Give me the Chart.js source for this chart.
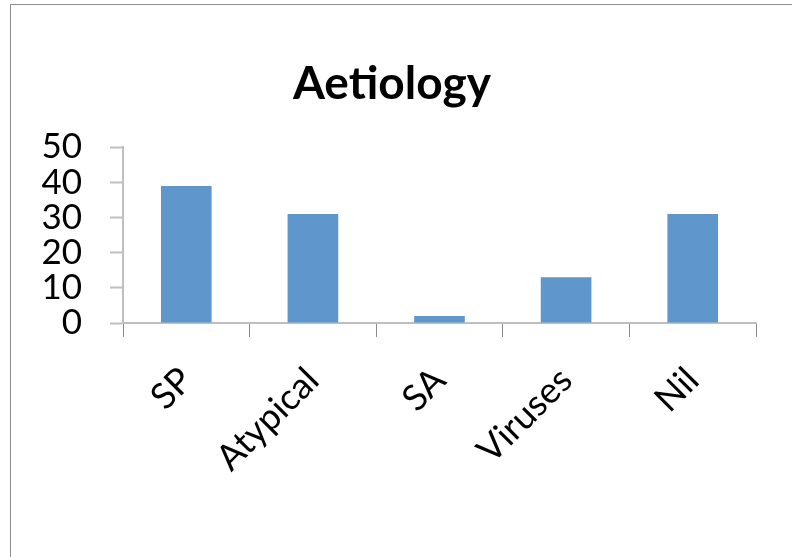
<!DOCTYPE html>
<html>
<head>
<meta charset="utf-8">
<script src="https://cdn.jsdelivr.net/npm/chart.js@4/dist/chart.umd.min.js"></script>
<style>
  html, body { margin: 0; padding: 0; background: #fff; }
  #wrap { position: relative; width: 792px; height: 557px; overflow: hidden; }
  #frame { position: absolute; left: 10px; top: 4px; width: 900px; height: 700px;
           border-top: 1px solid #8c8c8c; border-left: 1px solid #8c8c8c; }
  canvas { position: absolute; left: 0; top: 0; }
</style>
</head>
<body>
<div id="wrap">
  <div id="frame"></div>
  <canvas id="c" width="792" height="557"></canvas>
</div>
<script>
// Aetiology counts per category
const categories = ['SP', 'Atypical', 'SA', 'Viruses', 'Nil'];
const counts = [39, 31, 2, 13, 31];
const yTicks = [0, 10, 20, 30, 40, 50];

const FONT = 'Lato, "Open Sans", sans-serif';

new Chart(document.getElementById('c'), {
  type: 'bar',
  data: {
    labels: categories,
    datasets: [{
      label: 'Aetiology',
      data: counts,
      backgroundColor: '#5f96cb',
      borderWidth: 0,
      barPercentage: 0.4,
      categoryPercentage: 1.0
    }]
  },
  options: {
    responsive: false,
    animation: false,
    layout: { padding: { left: 28, right: 36, top: 0, bottom: 0 } },
    plugins: {
      legend: { display: false },
      tooltip: { enabled: false },
      title: {
        display: true,
        text: 'Aetiology',
        color: '#000',
        font: { family: FONT, size: 46, weight: 'bold' },
        padding: { top: 57, bottom: 35 }
      }
    },
    scales: {
      x: {
        grid: {
          offset: true,
          drawOnChartArea: false,
          drawTicks: true,
          tickLength: 14,
          tickColor: '#8a8a8a',
          tickWidth: 1
        },
        border: { display: true, color: '#bfbfbf', width: 2 },
        ticks: {
          color: '#000',
          font: { family: FONT, size: 36 },
          maxRotation: 45,
          minRotation: 45,
          autoSkip: false,
          padding: 22
        },
        afterFit(scale) { scale.height = 234; }
      },
      y: {
        min: 0,
        max: 50,
        afterBuildTicks(scale) { scale.ticks = yTicks.map(v => ({ value: v })); },
        grid: {
          drawOnChartArea: false,
          drawTicks: true,
          tickLength: 13,
          tickColor: '#bfbfbf',
          tickWidth: 2
        },
        border: { display: true, color: '#bfbfbf', width: 2 },
        ticks: {
          color: '#000',
          font: { family: FONT, size: 35 },
          autoSkip: false,
          padding: 28
        },
        afterFit(scale) { scale.width = 95; }
      }
    }
  }
});
</script>
</body>
</html>
